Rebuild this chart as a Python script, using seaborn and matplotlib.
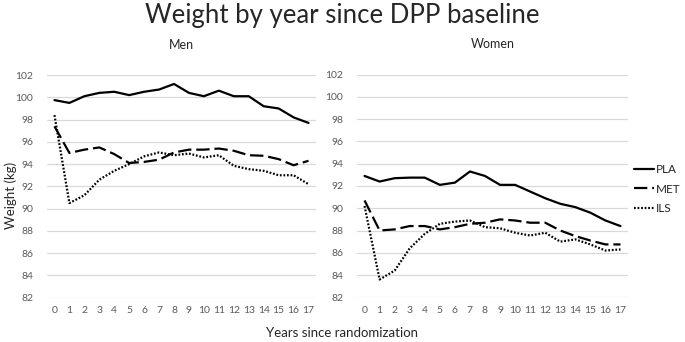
import pandas as pd
import matplotlib
matplotlib.use("Agg")
import matplotlib.pyplot as plt
import seaborn as sns

years = list(range(18))
groups = ["PLA", "MET", "ILS"]

men_pla = [99.75, 99.5, 100.1, 100.4, 100.5, 100.2, 100.5, 100.7, 101.2, 100.4,
           100.1, 100.6, 100.1, 100.1, 99.2, 99.0, 98.2, 97.7]
men_met = [97.4, 95.0, 95.3, 95.5, 94.9, 94.1, 94.2, 94.4, 95.05, 95.3,
           95.3, 95.4, 95.2, 94.8, 94.75, 94.45, 93.9, 94.3]
men_ils = [98.4, 90.5, 91.2, 92.6, 93.4, 94.0, 94.7, 95.05, 94.8, 94.95,
           94.6, 94.8, 93.85, 93.55, 93.4, 93.0, 93.0, 92.2]

women_pla = [92.9, 92.4, 92.7, 92.75, 92.75, 92.1, 92.3, 93.3, 92.9, 92.1,
             92.1, 91.5, 90.9, 90.4, 90.1, 89.6, 88.9, 88.4]
women_met = [90.7, 88.0, 88.1, 88.4, 88.4, 88.1, 88.3, 88.6, 88.7, 89.0,
             88.9, 88.7, 88.7, 88.0, 87.5, 87.1, 86.75, 86.75]
women_ils = [90.2, 83.6, 84.4, 86.4, 87.7, 88.6, 88.8, 88.9, 88.3, 88.2,
             87.8, 87.55, 87.8, 87.0, 87.2, 86.75, 86.2, 86.3]

y_ticks = list(range(82, 103, 2))


def long_form(pla, met, ils):
    rows = []
    for g, vals in zip(groups, [pla, met, ils]):
        for yr, v in zip(years, vals):
            rows.append({"year": yr, "weight": v, "group": g})
    return pd.DataFrame(rows)


def main():
    sns.set_style("white")
    plt.rcParams['font.family'] = ['Lato', 'DejaVu Sans']

    fig = plt.figure(figsize=(6.85, 3.42), dpi=100)
    ax_m = fig.add_axes([0.0686, 0.1295, 0.3927, 0.651])
    ax_w = fig.add_axes([0.5212, 0.1307, 0.3956, 0.651])

    dashes = {"PLA": "", "MET": (6, 2.2), "ILS": (0.8, 0.8)}

    for ax, data, name in [(ax_m, long_form(men_pla, men_met, men_ils), "Men"),
                           (ax_w, long_form(women_pla, women_met, women_ils), "Women")]:
        sns.lineplot(data=data, x="year", y="weight", style="group",
                     style_order=groups, dashes=dashes, color="black",
                     linewidth=1.6, ax=ax, legend=False)
        ax.set_xlim(-0.5, 17.5)
        ax.set_ylim(82, 102)
        ax.set_xticks(years)
        ax.set_yticks(y_ticks)
        ax.grid(axis="y", color="#d9d9d9", linewidth=0.9)
        ax.set_axisbelow(True)
        for s in ax.spines.values():
            s.set_visible(False)
        ax.tick_params(length=0, labelsize=7.5, labelcolor="#595959", pad=6)
        ax.tick_params(axis="y", pad=10)
        ax.set_xlabel("")
        ax.set_ylabel("")
        ax.set_title(name, fontsize=9, pad=19)

    # axis titles placed on the figure, as in the original layout
    fig.text(0.016, 0.43, "Weight (kg)", rotation=90, ha="center", va="center",
             fontsize=9.5)
    fig.text(0.5, 0.008, "Years since randomization", ha="center", va="bottom",
             fontsize=9.5)

    handles = ax_m.get_lines()[:3]
    fig.legend(handles, groups, loc="center left",
               bbox_to_anchor=(634 / 685, 1 - 189 / 342), frameon=False,
               fontsize=8.5, handlelength=1.7, handletextpad=0.15,
               labelspacing=0.75, borderpad=0, borderaxespad=0)

    fig.suptitle("Weight by year since DPP baseline", fontsize=18.5, y=0.99)

    fig.savefig("out.png", dpi=100)
    plt.close(fig)


if __name__ == "__main__":
    main()
